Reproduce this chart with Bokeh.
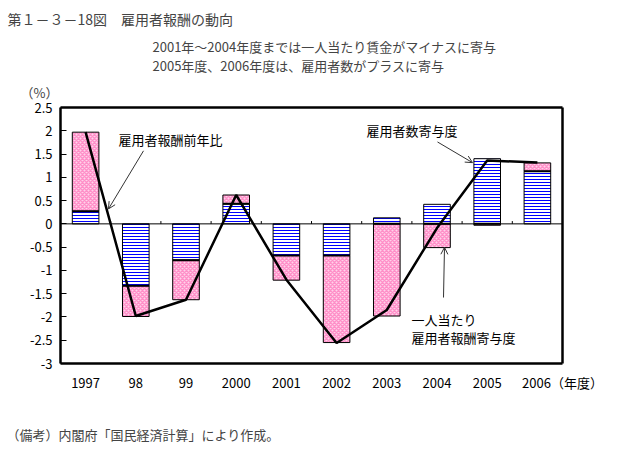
from bokeh.plotting import figure
from bokeh.models import Label, Arrow, OpenHead, FixedTicker, Title, LinearAxis
from bokeh.embed import file_html
from bokeh.resources import INLINE

years = ["1997", "98", "99", "2000", "2001", "2002", "2003", "2004", "2005", "2006"]
employees = [0.27, -1.33, -0.78, 0.43, -0.68, -0.68, 0.13, 0.42, 1.40, 1.13]
per_person = [1.70, -0.66, -0.85, 0.19, -0.53, -1.87, -1.98, -0.51, -0.03, 0.18]
total = [1.97, -1.98, -1.63, 0.62, -1.20, -2.56, -1.85, -0.09, 1.36, 1.32]
yticks = [-3, -2.5, -2, -1.5, -1, -0.5, 0, 0.5, 1, 1.5, 2, 2.5]
ytick_labels = ["-3", "-2.5", "-2", "-1.5", "-1", "-0.5", "0", "0.5", "1", "1.5", "2", "2.5"]
x_unit_label = "（年度）"

FONT = "Noto Sans CJK JP"
W, H = 627, 471
FL, FR, FT, FB = 60, 562, 105, 365
N = len(years)
PXU = (FR - FL) / N
Y0, Y1 = -3, 2.5
PYU = (FB - FT) / (Y1 - Y0)

xs = [i + 0.5 for i in range(N)]
pp_bottom = [e if (e >= 0) == (p >= 0) else 0 for e, p in zip(employees, per_person)]
pp_top = [b + p for b, p in zip(pp_bottom, per_person)]

p = figure(width=W, height=H, x_range=(0, N), y_range=(Y0, Y1),
           output_backend="svg", toolbar_location=None, title=None,
           min_border_left=FL, min_border_right=W - FR, min_border_top=FT, min_border_bottom=H - FB)
p.xgrid.visible = False
p.ygrid.visible = False
p.outline_line_color = None
p.background_fill_color = "white"
p.border_fill_color = "white"

# bars: employees contribution (blue horizontal lines)
p.vbar(x=xs, top=employees, bottom=0, width=0.53, fill_color="white",
       hatch_pattern="horizontal_line", hatch_color="#0000ff", hatch_scale=3, hatch_weight=1,
       line_color="black", line_width=1)
# per-person compensation contribution (pink checker)
p.vbar(x=xs, top=pp_top, bottom=pp_bottom, width=0.53, fill_color="#ffd3ea",
       hatch_pattern="diagonal_cross", hatch_color="#ff8fc8", hatch_scale=4, hatch_weight=1.5,
       line_color="black", line_width=1)
p.segment(x0=[x - 0.265 for x in xs], x1=[x + 0.265 for x in xs], y0=pp_bottom, y1=pp_bottom,
          line_color="black", line_width=2)

# zero line with small ticks at category boundaries
p.segment(x0=[0], x1=[N], y0=[0], y1=[0], line_color="black", line_width=1)
bnd = list(range(1, N))
p.segment(x0=bnd, x1=bnd, y0=[0] * len(bnd), y1=[0.06] * len(bnd), line_color="black", line_width=1)

p.line(x=xs, y=total, line_color="black", line_width=2.5)

# x axis: category labels; the last one carries the unit label
last_x = N - 0.001
lab_ticks = xs[:-1] + [last_x]
ov = {x: y for x, y in zip(xs[:-1], years[:-1])}
ov[last_x] = years[-1] + x_unit_label
p.xaxis.ticker = FixedTicker(ticks=lab_ticks)
p.xaxis.major_label_overrides = ov
p.xaxis.axis_line_color = "black"
p.xaxis.axis_line_width = 2.5
p.xaxis.major_tick_line_color = None
p.xaxis.major_tick_out = 0
p.xaxis.major_label_standoff = 9
p.xaxis.major_label_text_font = FONT
p.xaxis.major_label_text_font_size = "13px"
p.xaxis.major_label_text_color = "black"

p.yaxis.ticker = FixedTicker(ticks=yticks)
p.yaxis.major_label_overrides = {t: l for t, l in zip(yticks, ytick_labels)}
p.yaxis.axis_line_color = "black"
p.yaxis.axis_line_width = 2.5
p.yaxis.major_tick_in = 6
p.yaxis.major_tick_out = 0
p.yaxis.major_tick_line_color = "black"
p.yaxis.minor_tick_line_color = None
p.yaxis.major_label_standoff = 8
p.yaxis.major_label_text_font = FONT
p.yaxis.major_label_text_font_size = "13px"
p.yaxis.major_label_text_color = "black"

# top and right edges of the box
for side in ("right", "above"):
    ax = LinearAxis(ticker=FixedTicker(ticks=[]), axis_line_color="black", axis_line_width=2.5,
                    major_tick_line_color=None, minor_tick_line_color=None,
                    major_label_text_font_size="0px")
    p.add_layout(ax, side)

# texts outside the frame
p.add_layout(Title(text="（%）", align="left", offset=20 - FL, standoff=12,
                   text_font=FONT, text_font_size="13px", text_font_style="normal"), "above")
p.add_layout(Title(text="2001年〜2004年度までは一人当たり賃金がマイナスに寄与\n2005年度、2006年度は、雇用者数がプラスに寄与",
                   align="left", offset=152 - FL, standoff=0, text_line_height=1.0,
                   text_font=FONT, text_font_size="13px", text_font_style="normal"), "above")
p.add_layout(Title(text="第１－３－18図　雇用者報酬の動向", align="left", offset=7 - FL, standoff=12,
                   text_font=FONT, text_font_size="14px", text_font_style="normal"), "above")
p.add_layout(Title(text="（備考）内閣府「国民経済計算」により作成。", align="left", offset=6 - FL, standoff=56,
                   text_font=FONT, text_font_size="13px", text_font_style="normal"), "below")


def px2data(px, py):
    return (px - FL) / PXU, Y1 - (py - FT) / PYU


def data_label(text, px, py, size="13px"):
    x, y = px2data(px, py)
    p.add_layout(Label(x=x, y=y, text=text, text_font=FONT, text_font_size=size,
                       text_baseline="middle", text_align="left", text_color="black"))


def arrow(p0, p1):
    x0, y0 = px2data(*p0)
    x1, y1 = px2data(*p1)
    p.add_layout(Arrow(x_start=x0, y_start=y0, x_end=x1, y_end=y1, line_color="#333333", line_width=1,
                       end=OpenHead(size=7, line_color="#333333", line_width=1)))


data_label("雇用者報酬前年比", 118, 137)
data_label("雇用者数寄与度", 366, 128)
data_label("一人当たり", 411, 320)
data_label("雇用者報酬寄与度", 411, 339)

arrow((143, 149), (108, 208))
arrow((437, 140), (472, 161))
arrow((443, 298), (444, 247))

open("out.html", "w").write(file_html(p, INLINE))
